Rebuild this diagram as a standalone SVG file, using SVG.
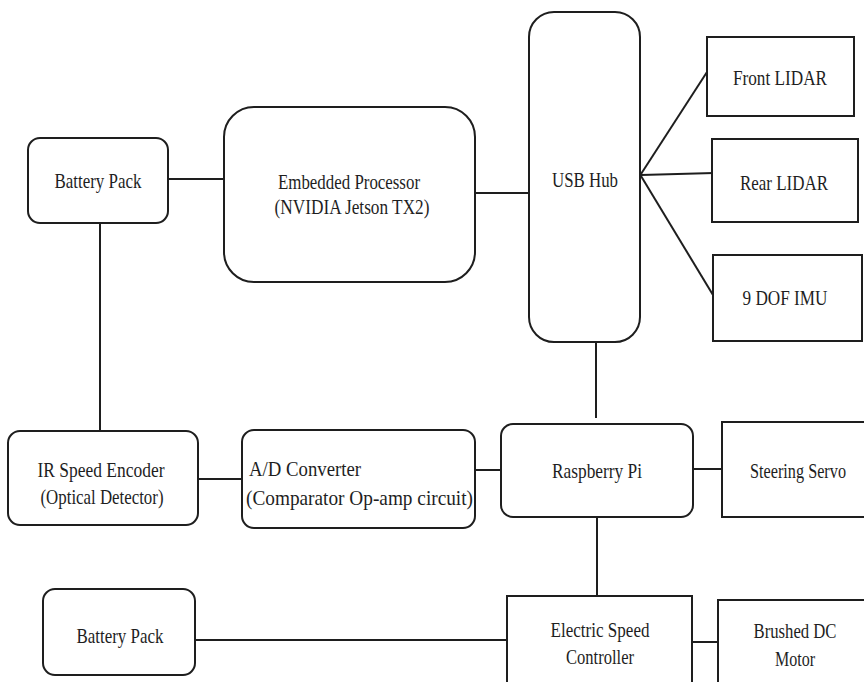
<svg xmlns="http://www.w3.org/2000/svg" width="864" height="682" viewBox="0 0 864 682">
<style>
.box{fill:#fff;stroke:#1e1e1e;stroke-width:2}
.ln{stroke:#1e1e1e;stroke-width:2;fill:none}
.t{font-family:'Liberation Serif','DejaVu Serif',serif;font-size:22px;fill:#1e1e1e;text-anchor:middle}
.s{text-anchor:start}
</style>
<rect width="864" height="682" fill="#fff"/>
<g id="connectors">
<line class="ln" x1="168" y1="179" x2="224" y2="179"/>
<line class="ln" x1="475" y1="193" x2="529" y2="193"/>
<line class="ln" x1="641" y1="174" x2="707" y2="72"/>
<line class="ln" x1="641" y1="175" x2="714" y2="173"/>
<line class="ln" x1="641" y1="176" x2="713" y2="295"/>
<line class="ln" x1="100" y1="223" x2="100" y2="431"/>
<line class="ln" x1="596" y1="342" x2="596" y2="418"/>
<line class="ln" x1="198" y1="479" x2="242" y2="479"/>
<line class="ln" x1="475" y1="470" x2="501" y2="470"/>
<line class="ln" x1="693" y1="469" x2="722" y2="469"/>
<line class="ln" x1="597" y1="517" x2="597" y2="596"/>
<line class="ln" x1="195" y1="640" x2="510" y2="640"/>
<line class="ln" x1="692" y1="642" x2="718" y2="642"/>
</g>
<g id="battery-top">
<rect class="box" x="28" y="138" width="140" height="85" rx="12"/>
<text class="t" x="98" y="188" textLength="87" lengthAdjust="spacingAndGlyphs">Battery Pack</text>
</g>
<g id="embedded-processor">
<rect class="box" x="224" y="107" width="251" height="175" rx="30"/>
<text class="t" x="349" y="189" textLength="142" lengthAdjust="spacingAndGlyphs">Embedded Processor</text>
<text class="t" x="352" y="214" textLength="155" lengthAdjust="spacingAndGlyphs">(NVIDIA Jetson TX2)</text>
</g>
<g id="usb-hub">
<rect class="box" x="529" y="12" width="111" height="330" rx="25"/>
<text class="t" x="585" y="187" textLength="66" lengthAdjust="spacingAndGlyphs">USB Hub</text>
</g>
<g id="front-lidar">
<rect class="box" x="707" y="37" width="147" height="79"/>
<text class="t" x="780" y="85" textLength="94" lengthAdjust="spacingAndGlyphs">Front LIDAR</text>
</g>
<g id="rear-lidar">
<rect class="box" x="712" y="139" width="146" height="83"/>
<text class="t" x="784" y="190" textLength="88" lengthAdjust="spacingAndGlyphs">Rear LIDAR</text>
</g>
<g id="imu">
<rect class="box" x="713" y="255" width="149" height="86"/>
<text class="t" x="785" y="305" textLength="85" lengthAdjust="spacingAndGlyphs">9 DOF IMU</text>
</g>
<g id="ir-encoder">
<rect class="box" x="8" y="431" width="190" height="94" rx="12"/>
<text class="t" x="101" y="477" textLength="127" lengthAdjust="spacingAndGlyphs">IR Speed Encoder</text>
<text class="t" x="102" y="504" textLength="123" lengthAdjust="spacingAndGlyphs">(Optical Detector)</text>
</g>
<g id="ad-converter">
<rect class="box" x="242" y="430" width="233" height="98" rx="12"/>
<text class="t s" x="249" y="476" textLength="112" lengthAdjust="spacingAndGlyphs">A/D Converter</text>
<text class="t s" x="246" y="505" textLength="227" lengthAdjust="spacingAndGlyphs">(Comparator Op-amp circuit)</text>
</g>
<g id="raspberry-pi">
<rect class="box" x="501" y="424" width="192" height="93" rx="12"/>
<text class="t" x="597" y="478" textLength="90" lengthAdjust="spacingAndGlyphs">Raspberry Pi</text>
</g>
<g id="steering-servo">
<path class="box" d="M864 422H722V517H864"/>
<text class="t" x="798" y="478" textLength="96" lengthAdjust="spacingAndGlyphs">Steering Servo</text>
</g>
<g id="battery-bottom">
<rect class="box" x="43" y="589" width="152" height="86" rx="12"/>
<text class="t" x="120" y="643" textLength="87" lengthAdjust="spacingAndGlyphs">Battery Pack</text>
</g>
<g id="esc">
<path class="box" d="M507 682V596H692V682"/>
<text class="t" x="600" y="637" textLength="99" lengthAdjust="spacingAndGlyphs">Electric Speed</text>
<text class="t" x="600" y="664" textLength="68" lengthAdjust="spacingAndGlyphs">Controller</text>
</g>
<g id="dc-motor">
<path class="box" d="M718 682V600H864"/>
<text class="t" x="795" y="638" textLength="83" lengthAdjust="spacingAndGlyphs">Brushed DC</text>
<text class="t" x="795" y="666" textLength="40" lengthAdjust="spacingAndGlyphs">Motor</text>
</g>
</svg>
